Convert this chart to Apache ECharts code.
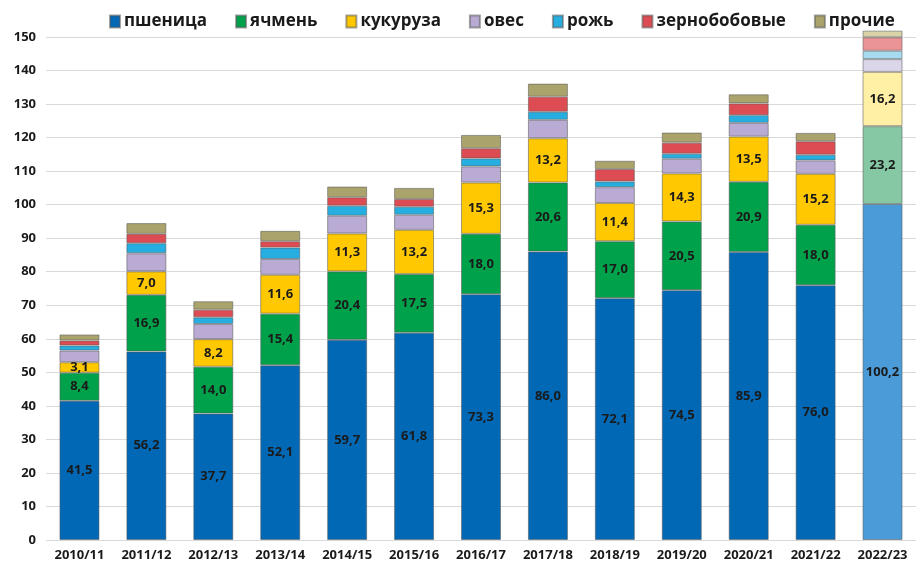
<!DOCTYPE html>
<html>
<head>
<meta charset="utf-8">
<script src="https://cdn.jsdelivr.net/npm/echarts@6/dist/echarts.min.js"></script>
<style>
  html, body { margin: 0; padding: 0; background: #fff; }
  #main { width: 916px; height: 567px; }
</style>
</head>
<body>
<div id="main"></div>
<script>
const years = ['2010/11', '2011/12', '2012/13', '2013/14', '2014/15', '2015/16', '2016/17',
  '2017/18', '2018/19', '2019/20', '2020/21', '2021/22', '2022/23'];

const wheat  = [41.5, 56.2, 37.7, 52.1, 59.7, 61.8, 73.3, 86.0, 72.1, 74.5, 85.9, 76.0, 100.2];
const barley = [8.4, 16.9, 14.0, 15.4, 20.4, 17.5, 18.0, 20.6, 17.0, 20.5, 20.9, 18.0, 23.2];
const corn   = [3.1, 7.0, 8.2, 11.6, 11.3, 13.2, 15.3, 13.2, 11.4, 14.3, 13.5, 15.2, 16.2];
const oats   = [3.5, 5.4, 4.5, 4.7, 5.3, 4.5, 4.8, 5.5, 4.7, 4.4, 4.1, 4.0, 3.8];
const rye    = [1.5, 3.0, 2.0, 3.4, 3.0, 2.4, 2.4, 2.4, 1.7, 1.5, 2.3, 1.7, 2.5];
const pulses = [1.5, 2.8, 2.3, 1.9, 2.5, 2.3, 3.0, 4.5, 3.7, 3.3, 3.5, 4.0, 4.0];
const other  = [1.8, 3.2, 2.5, 3.1, 3.2, 3.3, 4.0, 3.9, 2.5, 3.0, 2.7, 2.5, 2.0];

const names  = ['пшеница', 'ячмень', 'кукуруза', 'овес', 'рожь', 'зернобобовые', 'прочие'];
const colors = ['#0068b4', '#00a14b', '#ffc800', '#b9abd4', '#27aee1', '#dc4c52', '#aaa36b'];
// последний год (прогноз) светлее
const lightColors = ['#4a9bd8', '#86c8a4', '#fff0a6', '#dcd6ea', '#a6dbf0', '#eb9496', '#d8d2a6'];
const values = [wheat, barley, corn, oats, rye, pulses, other];

const myChart = echarts.init(document.getElementById('main'));

const fmt = v => v.toFixed(1).replace('.', ',');

const series = names.map((name, i) => ({
  name: name,
  type: 'bar',
  stack: 'total',
  barWidth: 40,
  clip: false,
  itemStyle: { color: colors[i], borderColor: 'rgba(90,90,90,0.55)', borderWidth: 1 },
  label: {
    show: i < 3,
    position: 'inside',
    color: '#1a1a1a',
    fontSize: 13,
    fontFamily: 'Open Sans, sans-serif',
    fontWeight: 'bold',
    formatter: p => fmt(p.value)
  },
  data: values[i].map((v, k) => k === years.length - 1
    ? { value: v, itemStyle: { color: lightColors[i] } }
    : v)
}));

const option = {
  backgroundColor: '#fff',
  animation: false,
  legend: {
    data: names,
    top: 8,
    left: 104,
    itemWidth: 10,
    itemHeight: 12,
    itemGap: 28,
    icon: 'rect',
    textStyle: {
      fontSize: 17,
      color: '#1a1a1a',
      fontFamily: 'Open Sans, sans-serif',
      fontWeight: 'bold',
      padding: [0, 0, 0, -1]
    }
  },
  grid: {
    left: 46,
    top: 37,
    width: 877,
    bottom: 27
  },
  xAxis: {
    type: 'category',
    data: years,
    axisTick: { show: false },
    axisLine: { show: false },
    axisLabel: {
      color: '#1a1a1a',
      fontSize: 13,
      fontWeight: 'bold',
      fontFamily: 'Open Sans, sans-serif',
      margin: 9
    }
  },
  yAxis: {
    type: 'value',
    min: 0,
    max: 150,
    interval: 10,
    axisLine: { show: false },
    axisTick: { show: false },
    splitLine: { lineStyle: { color: '#d9d9d9', width: 1 } },
    axisLabel: {
      color: '#1a1a1a',
      fontSize: 13,
      fontWeight: 'bold',
      fontFamily: 'Open Sans, sans-serif',
      margin: 10
    }
  },
  series: series
};

myChart.setOption(option);
</script>
</body>
</html>
